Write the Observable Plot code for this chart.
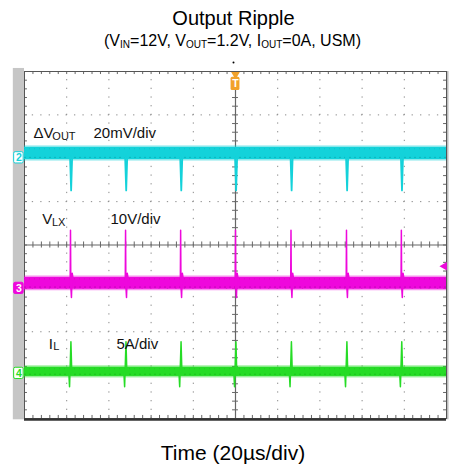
<!DOCTYPE html>
<html>
<head>
<meta charset="utf-8">
<script src="https://cdn.jsdelivr.net/npm/d3@7"></script>
<script src="https://cdn.jsdelivr.net/npm/@observablehq/plot@0.6"></script>
<style>
  body { margin: 0; background: #fff; font-family: "Liberation Sans", Arial, sans-serif; }
  #wrap { position: relative; width: 449px; height: 468px; overflow: hidden; }
  #chart { position: absolute; left: 0; top: 0; }
  .t { position: absolute; left: 0; text-align: center; white-space: nowrap; color: #000; }
  #title { top: 8px; width: 467px; font-size: 20px; line-height: 20px; }
  #sub { top: 33px; width: 465px; font-size: 16px; line-height: 16px; }
  #xlab { top: 442px; width: 466px; font-size: 21px; line-height: 21px; }
  .s { font-size: 10px; position: relative; top: 2px; }
</style>
</head>
<body>
<div id="wrap">
  <div id="chart"></div>
  <div class="t" id="title">Output Ripple</div>
  <div class="t" id="sub">(V<span class="s">IN</span>=12V, V<span class="s">OUT</span>=1.2V, I<span class="s">OUT</span>=0A, USM)</div>
  <div class="t" id="xlab">Time (20µs/div)</div>
</div>
<script>
// ---- data (time in µs, amplitude in screen divisions) ----
const spikeTimes = [21.8, 47.9, 74.0, 100.0, 126.3, 152.6, 178.6];
const channelIds = ["2", "3", "4"];
const channelNames = ["ΔV", "V", "I"];
const channelSubs = ["OUT", "LX", "L"];
const scaleLabels = ["20mV/div", "10V/div", "5A/div"];
const bandLow = [1.97, -1.02, -3.03];
const bandHigh = [2.25, -0.75, -2.82];
const groundLevel = [2.01, -1.0, -2.96];
// switching-event shapes (offset from event time, level)
const vOutSpikeDt = [-0.7, -0.2, 0.3, 0.8, 1.5];
const vOutSpikeV = [2.1, 2.02, 1.26, 2.06, 2.15];
const vLxSpikeDt = [-0.5, -0.15, 0.0, 0.15, 0.45, 0.8, 1.3, 2.2];
const vLxSpikeV = [-0.9, -0.9, 0.34, -0.95, -1.21, -0.65, -0.8, -0.88];
const iLSpikeDt = [-0.8, -0.45, 0.2, 0.55, 0.9];
const iLSpikeV = [-2.93, -3.27, -2.23, -2.85, -2.93];
const trigLevel = -0.49;

// ---- styles ----
const cyan = "#14d2da", cyanDark = "#08909a";
const mag = "#ee08dc", magDark = "#8a0a88";
const green = "#26dc26", greenDark = "#12a012";
const orange = "#f2a22a";

function spikeRows(dts, vs) {
  return spikeTimes.flatMap((t, k) => dts.map((dt, i) => ({x: t + dt, y: vs[i], k})));
}

function trace(ch, dts, vs, color, dark, w) {
  return [
    Plot.rect([0], {x1: 0, x2: 200, y1: bandLow[ch] - 0.035, y2: bandHigh[ch] + 0.035, fill: color, fillOpacity: 0.45}),
    Plot.rect([0], {x1: 0, x2: 200, y1: bandLow[ch], y2: bandHigh[ch], fill: color}),
    Plot.ruleY([bandLow[ch] + 0.05], {x1: 0, x2: 200, stroke: dark, strokeOpacity: 0.45, strokeDasharray: "2,3"}),
    Plot.ruleY([bandHigh[ch] - 0.03], {x1: 0, x2: 200, stroke: dark, strokeOpacity: 0.25, strokeDasharray: "1,4"}),
    Plot.line(spikeRows(dts, vs), {x: "x", y: "y", z: "k", stroke: color, strokeWidth: w})
  ];
}

const gridX = [20, 40, 60, 80, 120, 140, 160, 180];
const gridY = [-3, -2, -1, 1, 2, 3];
const minorX = d3.range(0, 200.01, 4);
const minorY = d3.range(-4, 4.01, 0.2);

const label = (txt, x, y, size) =>
  Plot.text([txt], {x, y, text: d => d, textAnchor: "start", fontSize: size, fill: "#111"});

const markerColors = [cyan, mag, green];
const markerFill = ["white", mag, "white"];
const markerText = [cyan, "white", green];

const chart = Plot.plot({
  width: 449,
  height: 468,
  marginTop: 71,
  marginBottom: 50,
  marginLeft: 24,
  marginRight: 3,
  x: {domain: [0, 200], axis: null},
  y: {domain: [-4, 4], axis: null},
  style: {fontFamily: "Liberation Sans, Arial, sans-serif", background: "transparent", overflow: "visible"},
  marks: [
    // side strips
    Plot.rect([0], {x1: -5.3, x2: 0, y1: -4.03, y2: 4.07, fill: "#c6c6c6"}),
    Plot.rect([0], {x1: 200, x2: 201.2, y1: -4.03, y2: 4.0, fill: "#bdbdbd"}),
    // dotted grid
    Plot.ruleX(gridX, {stroke: "#8a8a8a", strokeWidth: 1, strokeDasharray: "1.3,7.375", strokeDashoffset: 0.65}),
    Plot.ruleY(gridY, {stroke: "#8a8a8a", strokeWidth: 1, strokeDasharray: "1.3,7.14", strokeDashoffset: 0.65}),
    // centre cross with ticks
    Plot.ruleX([100], {stroke: "#666", strokeWidth: 1.2}),
    Plot.ruleY([0], {stroke: "#666", strokeWidth: 1.2}),
    Plot.ruleX(minorX, {y1: -0.07, y2: 0.07, stroke: "#666"}),
    Plot.ruleY(minorY, {x1: 98.6, x2: 101.4, stroke: "#666"}),
    // edge ticks
    Plot.ruleX(minorX, {y1: 4, y2: 3.93, stroke: "#666"}),
    Plot.ruleX(minorX, {y1: -4, y2: -3.93, stroke: "#666"}),
    Plot.ruleY(minorY, {x1: 0, x2: 1.4, stroke: "#666"}),
    Plot.ruleY(minorY, {x1: 198.6, x2: 200, stroke: "#666"}),
    Plot.frame({stroke: "#555"}),
    Plot.ruleY([-4], {stroke: "#333", strokeWidth: 2.5, dy: 1}),
    // traces
    ...trace(0, vOutSpikeDt, vOutSpikeV, cyan, cyanDark, 1.8),
    ...trace(1, vLxSpikeDt, vLxSpikeV, mag, magDark, 1.5),
    ...trace(2, iLSpikeDt, iLSpikeV, green, greenDark, 1.5),
    // channel markers
    ...channelIds.flatMap((id, i) => [
      Plot.rect([0], {x1: -4.9, x2: -0.4, y1: groundLevel[i] - 0.13, y2: groundLevel[i] + 0.13,
        fill: markerFill[i], stroke: markerColors[i], strokeWidth: 1, rx: 1.5}),
      Plot.text([id], {x: -2.65, y: groundLevel[i], text: d => d, fontSize: 10.5, fontWeight: "bold", fill: markerText[i]})
    ]),
    // trigger markers
    Plot.rect([0], {x1: 97.9, x2: 102.1, y1: 3.56, y2: 3.87, fill: orange, rx: 1.5}),
    Plot.dot([0], {x: 100, y: 3.93, symbol: "triangle", r: 3.2, rotate: 180, fill: orange}),
    Plot.text(["T"], {x: 100, y: 3.71, text: d => d, fontSize: 10.5, fontWeight: "bold", fill: "white"}),
    Plot.dot([0], {x: 99.05, y: 4.21, r: 1, fill: "#000"}),
    Plot.dot([trigLevel], {x: 199, y: d => d, symbol: "triangle", r: 3.2, rotate: -90, fill: mag}),
    // channel labels
    label(channelNames[0], 4.27, 2.568, 15),
    label(channelSubs[0], 13.2, 2.50, 11),
    label(scaleLabels[0], 32.7, 2.568, 15),
    label(channelNames[1], 8.39, 0.60, 15),
    label(channelSubs[1], 13.0, 0.53, 11),
    label(scaleLabels[1], 40.76, 0.60, 15),
    label(channelNames[2], 11.5, -2.28, 15),
    label(channelSubs[2], 13.6, -2.34, 11),
    label(scaleLabels[2], 43.6, -2.28, 15)
  ]
});
document.getElementById("chart").appendChild(chart);
</script>
</body>
</html>
